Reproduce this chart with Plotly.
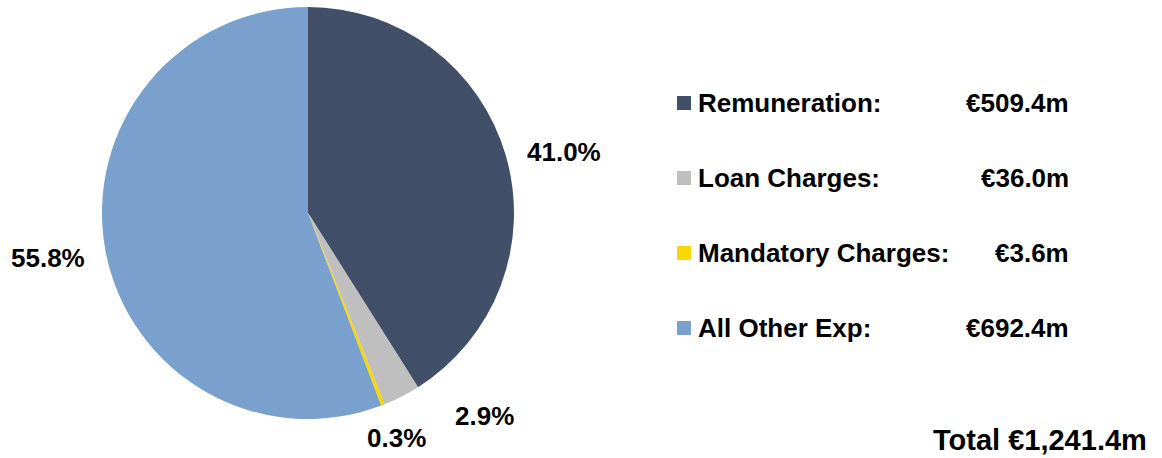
import plotly.graph_objects as go

categories = ["Remuneration", "Loan Charges", "Mandatory Charges", "All Other Exp"]
values = [509.4, 36.0, 3.6, 692.4]
value_labels = ["€509.4m", "€36.0m", "€3.6m", "€692.4m"]
pct_labels = ["41.0%", "2.9%", "0.3%", "55.8%"]
total_label = "Total €1,241.4m"

colors = ["#415068", "#BFBFBF", "#F7D800", "#7AA0CD"]

W, H = 1162, 458
FONT = "Liberation Sans, Arial, sans-serif"
FS = 26


def px(x):
    return min(max(x / W, 0), 1)


def py(y):
    return min(max(1 - y / H, 0), 1)


fig = go.Figure()
fig.add_trace(go.Pie(
    labels=categories,
    values=values,
    sort=False,
    direction="clockwise",
    rotation=0,
    marker=dict(colors=colors, line=dict(width=0)),
    textinfo="none",
    hoverinfo="label+value+percent",
    showlegend=False,
    domain=dict(x=[px(102), px(514)], y=[py(419), py(7)]),
))

# percentage labels outside the pie (page-pixel placement)
pct_pos = [(564, 152), (484, 416), (396, 438), (48, 258)]
annotations = []
for txt, (x, y) in zip(pct_labels, pct_pos):
    annotations.append(dict(
        x=px(x), y=py(y), xref="paper", yref="paper",
        text=f"<b>{txt}</b>", showarrow=False,
        font=dict(family=FONT, size=FS, color="#000000"),
        xanchor="center", yanchor="middle",
    ))

# legend rows
row_y = [103, 178, 253, 328]
shapes = []
for cat, val, col, ry in zip(categories, value_labels, colors, row_y):
    shapes.append(dict(
        type="rect", xref="paper", yref="paper",
        x0=px(677), x1=px(691), y0=py(ry + 7), y1=py(ry - 7),
        fillcolor=col, line=dict(width=0),
    ))
    annotations.append(dict(
        x=px(696), y=py(ry), xref="paper", yref="paper",
        text=f"<b>{cat}:</b>", showarrow=False,
        font=dict(family=FONT, size=FS, color="#000000"),
        xanchor="left", yanchor="middle",
    ))
    annotations.append(dict(
        x=px(1071), y=py(ry), xref="paper", yref="paper",
        text=f"<b>{val}</b>", showarrow=False,
        font=dict(family=FONT, size=FS, color="#000000"),
        xanchor="right", yanchor="middle",
    ))

annotations.append(dict(
    x=px(1149), y=py(440), xref="paper", yref="paper",
    text=f"<b>{total_label}</b>", showarrow=False,
    font=dict(family=FONT, size=29, color="#000000"),
    xanchor="right", yanchor="middle",
))

fig.update_layout(
    width=W, height=H,
    margin=dict(l=0, r=0, t=0, b=0),
    paper_bgcolor="#FFFFFF",
    plot_bgcolor="#FFFFFF",
    annotations=annotations,
    shapes=shapes,
    showlegend=False,
)

fig.write_html(
    "out.html",
    config={"displayModeBar": False},
    post_script="document.body.style.margin='0';document.body.style.overflow='hidden';",
)
